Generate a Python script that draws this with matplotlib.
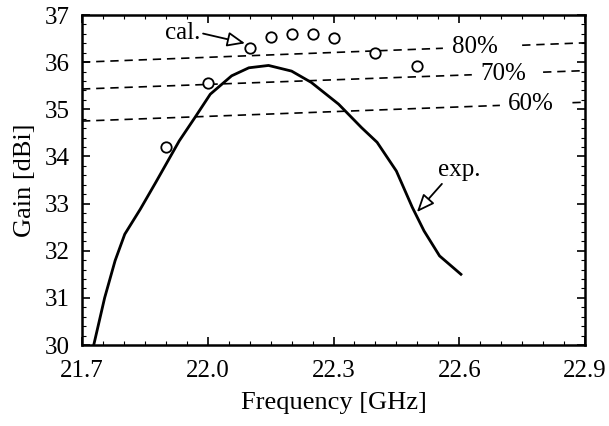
import matplotlib.pyplot as plt
from matplotlib.ticker import MultipleLocator

plt.rcParams['font.family'] = ['Liberation Serif', 'DejaVu Serif']
plt.rcParams['font.size'] = 18

# measured gain (solid curve)
exp_freq = [21.728, 21.754, 21.779, 21.802, 21.839, 21.876, 21.932, 21.969, 22.006,
            22.057, 22.098, 22.145, 22.200, 22.247, 22.312, 22.367, 22.404, 22.450,
            22.488, 22.516, 22.553, 22.604]
exp_gain = [30.0, 31.0, 31.79, 32.35, 32.88, 33.45, 34.33, 34.82, 35.32,
            35.71, 35.88, 35.93, 35.81, 35.57, 35.11, 34.61, 34.30, 33.69,
            32.92, 32.42, 31.89, 31.50]

# calculated gain (circles)
cal_freq = [21.9, 22.0, 22.1, 22.15, 22.2, 22.25, 22.3, 22.4, 22.5]
cal_gain = [34.2, 35.55, 36.3, 36.53, 36.6, 36.6, 36.51, 36.19, 35.91]

# aperture efficiency lines: value at 21.7 and at 22.9 GHz
eff_labels = ['80%', '70%', '60%']
eff_left = [36.0, 35.43, 34.75]
eff_right = [36.41, 35.82, 35.15]
eff_gap = [(22.561, 22.75), (22.63, 22.80), (22.697, 22.87)]
eff_text_x = [22.637, 22.705, 22.771]

x_ticks = [21.7, 22.0, 22.3, 22.6, 22.9]
x_ticklabels = ['21.7', '22.0', '22.3', '22.6', '22.9']
y_ticks = [30, 31, 32, 33, 34, 35, 36, 37]

f0, f1 = 21.7, 22.9

fig = plt.figure(figsize=(6.09, 4.26), dpi=100)
ax = fig.add_axes([82 / 609, 1 - 345 / 426, (585 - 82) / 609, (345 - 15) / 426])

def eff_at(x, left, right):
    return left + (right - left) * (x - f0) / (f1 - f0)

for lab, l, r, gap, tx in zip(eff_labels, eff_left, eff_right, eff_gap, eff_text_x):
    for xa, xb in [(f0, gap[0]), (gap[1], f1)]:
        ax.plot([xa, xb], [eff_at(xa, l, r), eff_at(xb, l, r)], color='black',
                linestyle=(0, (5, 3.5)), linewidth=1.2)
    ax.text(tx, eff_at(tx, l, r), lab, ha='center', va='center', fontsize=18)

ax.plot(exp_freq, exp_gain, color='black', linewidth=2.0)
ax.plot(cal_freq, cal_gain, linestyle='none', marker='o', markersize=7.5,
        markerfacecolor='white', markeredgecolor='black', markeredgewidth=1.3)

arrow = dict(arrowstyle='-|>,head_length=0.6,head_width=0.25', fc='white', ec='black', lw=1.3,
             shrinkA=0, shrinkB=0)
ax.annotate('cal.', xy=(22.089, 36.40), xytext=(21.94, 36.62), ha='center', va='center',
            fontsize=18, arrowprops=dict(arrow, relpos=(1.0, 0.5)))
ax.annotate('exp.', xy=(22.499, 32.82), xytext=(22.60, 33.71), ha='center', va='center',
            fontsize=18, arrowprops=dict(arrow, relpos=(0.15, 0.0)))

ax.set_xlim(f0, f1)
ax.set_ylim(30, 37)
ax.set_xticks(x_ticks)
ax.set_xticklabels(x_ticklabels)
ax.set_yticks(y_ticks)
ax.xaxis.set_minor_locator(MultipleLocator(0.05))
ax.yaxis.set_minor_locator(MultipleLocator(0.2))
ax.tick_params(which='both', direction='in', top=True, right=True, labelsize=18)
ax.tick_params(which='major', length=6, width=1.2)
ax.tick_params(which='minor', length=3, width=0.8)
ax.tick_params(axis='x', which='major', pad=11)
ax.tick_params(axis='y', which='major', pad=9)
for s in ax.spines.values():
    s.set_linewidth(1.8)

ax.set_xlabel('Frequency [GHz]', fontsize=19, labelpad=7)
ax.set_ylabel('Gain [dBi]', fontsize=19, labelpad=6)

fig.savefig('out.png', dpi=100)
